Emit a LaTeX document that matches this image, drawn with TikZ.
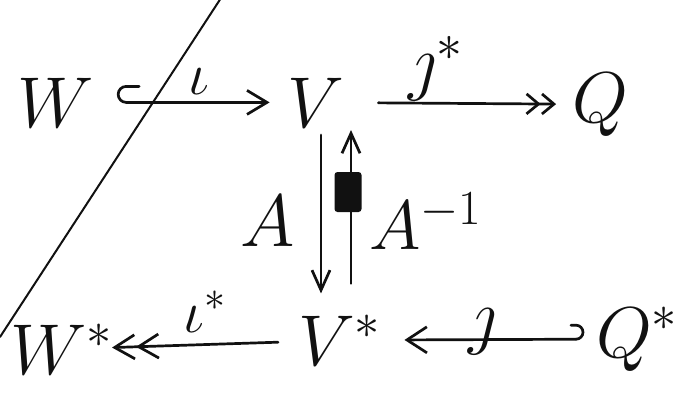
\RequirePackage{fix-cm}
\documentclass[tikz,border=0pt]{standalone}
\usepackage{amsmath,amssymb}
\usepackage{xcolor}
\usepackage{tikz}
\usetikzlibrary{arrows.meta,positioning,calc}
\definecolor{ink}{HTML}{111111}
\tikzset{
    every picture/.style={line cap=round,line join=round},
    space/.style={text=ink,inner sep=0pt,outer sep=0pt,
      font=\fontsize{72}{80}\selectfont},
    maplabel/.style={text=ink,inner sep=0pt,outer sep=0pt,
      font=\fontsize{60}{64}\selectfont},
    biglabel/.style={text=ink,inner sep=0pt,outer sep=0pt,
      font=\fontsize{74}{80}\selectfont},
    mapline/.style={draw=ink,line width=2.7pt},
    cutline/.style={draw=ink,line width=2pt},
    blot/.style={fill=ink,rounded corners=3pt,inner sep=0pt,
      minimum width=27pt,minimum height=40pt},
    injr/.style={-{Straight Barb[length=20pt,width=24pt]}},
    injl/.style={-{Straight Barb[length=20pt,width=26pt]}},
    surj/.style={-{Straight Barb[length=12pt,width=20pt]Straight Barb[length=12pt,width=20pt]}},
    surjl/.style={-{Straight Barb[length=20pt,width=24pt]Straight Barb[length=20pt,width=24pt]}},
    vmap/.style={-{Straight Barb[length=20pt,width=18pt]}}
}

\begin{document}
\begin{tikzpicture}[x=1pt,y=-1pt]
    \useasboundingbox (0,0) rectangle (683,394);
    \coordinate (cuttop) at (221,-2);
    \coordinate (cutbot) at (0,337);
    \draw[cutline] (cuttop) -- (cutbot);
    \node[space,anchor=base] (W) at (56,127) {$W$};
    \node[space,anchor=base] (V) at (316,127) {$V$};
    \node[space,anchor=base] (Q) at (600,122) {$Q$};
    \node[space,anchor=base west] (Ws) at (10,374) {$W^*$};
    \node[space,anchor=base west] (Vs) at (298,365) {$V^*$};
    \node[space,anchor=base west] (Qs) at (596,357) {$Q^*$};
    \node[blot] (scribble) at (348,192) {};
    \draw[mapline,injr,shorten >=18pt] ([xshift=32pt]W.east) coordinate (iotatail) -- (V)
      node[maplabel,pos=0.45,above=8pt] {$\iota$};
    \draw[mapline] (iotatail) arc[start angle=90,end angle=270,radius=8] -- ++(13,0);
    \draw[mapline,surj,shorten <=34pt,shorten >=16pt] (V) -- (Q)
      node[biglabel,pos=0.4,above=2pt] {$\jmath^*$};
    \draw[mapline,surjl,shorten <=20pt,shorten >=0pt] (Vs) -- (Ws)
      node[maplabel,pos=0.5,above=12pt] {$\iota^*$};
    \draw[mapline,injl,shorten >=24pt] ([xshift=-20pt]Qs.west) coordinate (jtail) -- (Vs)
      node[biglabel,pos=0.48,yshift=8pt] {$\jmath$};
    \draw[mapline] (jtail) arc[start angle=90,end angle=-90,radius=7] -- ++(-5,0);
    \draw[mapline,vmap,shorten <=8pt,shorten >=22pt]
      ([xshift=5pt]V.south) -- ([xshift=5pt]V.south |- Vs.north)
      node[biglabel,midway,left=26pt] {$A$};
    \draw[mapline,vmap,shorten <=32pt,shorten >=3pt]
      ([xshift=35pt]V.south |- Vs.north) -- ([xshift=35pt]V.south)
      node[biglabel,midway,right=18pt,font=\fontsize{70}{76}\selectfont] {$A^{-1}$};
\end{tikzpicture}
\end{document}
